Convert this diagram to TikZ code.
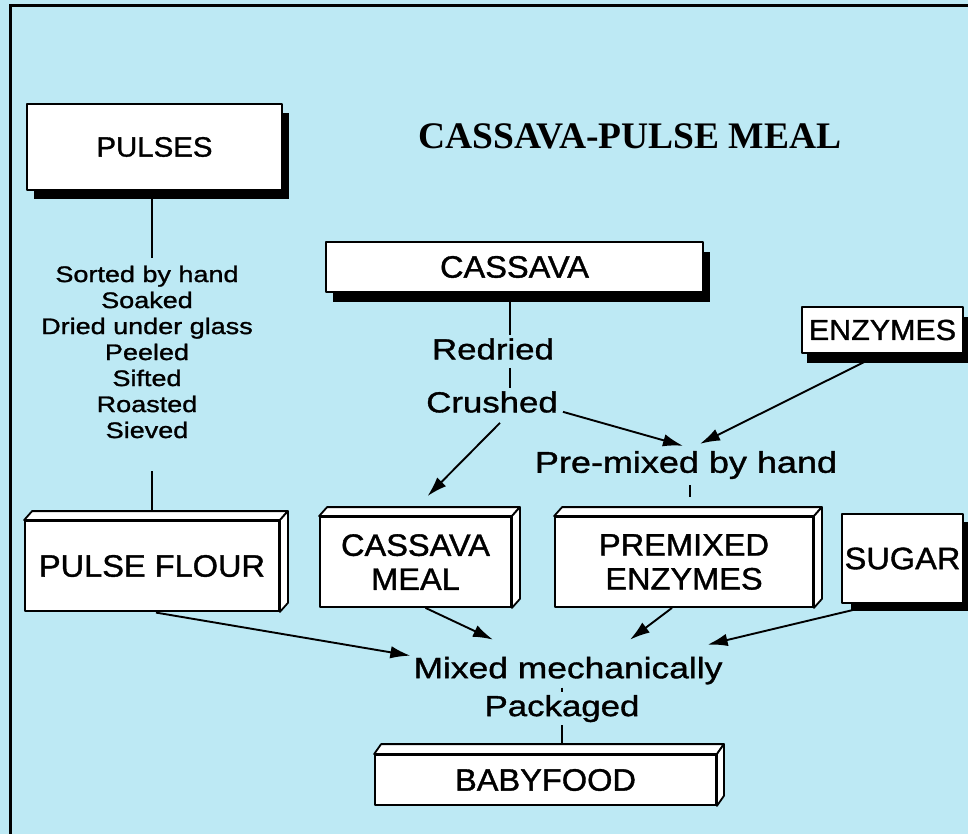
\documentclass[tikz,border=0pt]{standalone}
\usepackage{fontspec}
\setmainfont{Liberation Sans}
\newfontfamily\procf{Liberation Sans}[FakeStretch=1.2, FakeBold=1.2]
\newfontfamily\boxf{Liberation Sans}[FakeStretch=1.05, FakeBold=1.2]
\newfontfamily\titlef{Liberation Serif}
\usetikzlibrary{arrows.meta,shadows}
\definecolor{bgblue}{RGB}{189,233,244}
\pgfdeclarelayer{bg}\pgfdeclarelayer{lines}\pgfsetlayers{bg,lines,main}
\tikzset{
  boxline/.style={draw=black, line width=1.8pt, line join=round},
  flatbox/.style={boxline, fill=white, inner sep=0pt, align=center,
    font=\boxf\fontsize{31}{34}\selectfont},
  shbox/.style n args={2}{flatbox, drop shadow={shadow xshift=#1, shadow yshift=#2,
    fill=black, opacity=1, draw=none}},
  proc/.style={inner sep=3pt, align=center, font=\procf\fontsize{29}{31}\selectfont},
  conn/.style={line width=1.9pt},
  arr/.style={conn, -{Latex[length=20pt,width=12.5pt]}},
}
\newcommand\boxfaces[3]{%
  \draw[boxline, fill=white] (#1.north west) -- ++(#2,#3) -- ([shift={(#2,#3)}]#1.north east)
     -- (#1.north east) -- cycle;
  \draw[boxline, fill=white] (#1.north east) -- ++(#2,#3) -- ([shift={(#2,#3)}]#1.south east)
     -- (#1.south east) -- cycle;}
\begin{document}
\begin{tikzpicture}[x=1pt,y=-1pt]
\useasboundingbox (0,0) rectangle (968,834);
\begin{pgfonlayer}{bg}
  \fill[bgblue] (0,0) rectangle (968,834);
  \draw[line width=3pt] (10,834) -- (10,6) -- (968,6);
\end{pgfonlayer}

% title
\node[font=\titlef\bfseries\fontsize{37.5}{40}\selectfont, inner sep=0pt] (title) at (630,136) {CASSAVA-PULSE MEAL};

% boxes
\node[shbox={7pt}{-9pt}, minimum width=255pt, minimum height=86pt,
      font=\boxf\fontsize{28}{30}\selectfont] (pulses) at (154.5,147) {PULSES};
\node[shbox={7pt}{-10pt}, minimum width=377pt, minimum height=50pt] (cassava) at (514.5,267) {CASSAVA};
\node[shbox={5pt}{-10pt}, minimum width=161pt, minimum height=46pt,
      font=\boxf\fontsize{29}{31}\selectfont] (enzymes) at (882.5,330) {ENZYMES};
\node[flatbox, minimum width=254pt, minimum height=90pt] (pflour) at (152,566) {PULSE FLOUR};
\node[flatbox, minimum width=191pt, minimum height=90pt] (cmeal) at (415.5,562) {CASSAVA\\MEAL};
\node[flatbox, minimum width=258pt, minimum height=90pt] (premix) at (684,562) {PREMIXED\\ENZYMES};
\node[shbox={9pt}{-8pt}, minimum width=121pt, minimum height=89pt] (sugar) at (902.5,558.5) {SUGAR};
\node[flatbox, minimum width=341pt, minimum height=50pt] (babyfood) at (545.5,780) {BABYFOOD};
\boxfaces{pflour}{8pt}{9pt}
\boxfaces{cmeal}{8pt}{9pt}
\boxfaces{premix}{8pt}{9pt}
\boxfaces{babyfood}{7pt}{10pt}

% process texts
\node[proc, font=\procf\fontsize{22.5}{26}\selectfont] (psteps) at (147,352)
  {Sorted by hand\\Soaked\\Dried under glass\\Peeled\\Sifted\\Roasted\\Sieved};
\node[proc] (redried) at (493,349) {Redried};
\node[proc] (crushed) at (492,402) {Crushed};
\node[proc, font=\procf\fontsize{30}{32}\selectfont] (premixlbl) at (686,465) {Pre-mixed by hand};
\node[proc, font=\procf\fontsize{29.5}{31}\selectfont] (mixed) at (568,670.6) {Mixed mechanically};
\node[proc, font=\procf\fontsize{29}{31}\selectfont] (packaged) at (562,708.6) {Packaged};

% connectors
\begin{pgfonlayer}{lines}
  \path ([yshift=5pt]psteps.north) coordinate (pst)
        ([yshift=-30pt]psteps.south) coordinate (psb)
        ([xshift=-4.5pt]cassava.south) coordinate (cx)
        ([xshift=4pt]premixlbl.south) coordinate (pmx)
        (packaged.north) coordinate (pkn);
  \draw[conn] (pulses.south -| pflour.north) -- (pst -| pflour.north);
  \draw[conn] (psb -| pflour.north) -- (pflour.north);
  \draw[conn] (cx) -- (cx |- redried.north);
  \draw[conn, shorten <=5pt] (cx |- redried.south) -- (cx |- crushed.north);
  \draw[arr] ([xshift=8pt,yshift=-7pt]crushed.south) -- ([xshift=12pt,yshift=20pt]cmeal.north);
  \draw[arr] ([xshift=2pt,yshift=4pt]crushed.south east) -- ([xshift=-3pt,yshift=2pt]premixlbl.north);
  \draw[arr] ([xshift=-2pt]enzymes.south) -- ([xshift=14pt,yshift=4pt]premixlbl.north);
  \draw[conn, shorten <=3pt, shorten >=19pt] (pmx) -- (pmx |- premix.north);
  \draw[arr, shorten <=4pt] (pflour.south) -- ([yshift=-2pt]mixed.north west);
  \draw[arr] ([xshift=10pt]cmeal.south) -- ([xshift=-75pt,yshift=14pt]mixed.north);
  \draw[arr] ([xshift=-12pt]premix.south) -- ([xshift=62pt,yshift=14pt]mixed.north);
  \draw[arr] ([xshift=-24pt]sugar.south) -- ([xshift=-18pt,yshift=9pt]mixed.north east);
  \draw[conn] (pkn |- mixed.south) -- (pkn);
  \draw[conn] (packaged.south) -- (packaged.south |- babyfood.north);
\end{pgfonlayer}
\end{tikzpicture}
\end{document}
